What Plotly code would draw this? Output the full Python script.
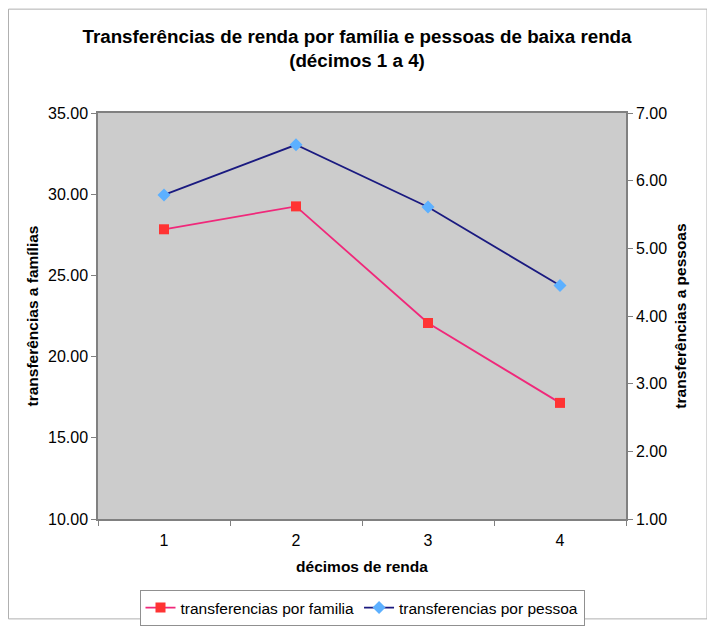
import plotly.graph_objects as go

decimos = ["1", "2", "3", "4"]
por_familia = [27.84, 29.25, 22.07, 17.15]
por_pessoa = [5.79, 6.53, 5.61, 4.45]

# page offset of 8px (body margin) compensated
OFF = 8
W, H = 715 - OFF, 628 - OFF
L, R, T, B = 98 - OFF, 626 - OFF, 112.5 - OFF, 519 - OFF

fig = go.Figure()
fig.add_trace(go.Scatter(
    x=decimos, y=por_familia, name="transferencias por familia",
    mode="lines+markers",
    line=dict(color="#F0287A", width=1.8),
    marker=dict(symbol="square", size=10, color="#FF3333"),
    yaxis="y"))
fig.add_trace(go.Scatter(
    x=decimos, y=por_pessoa, name="transferencias por pessoa",
    mode="lines+markers",
    line=dict(color="#1A1A80", width=1.8),
    marker=dict(symbol="diamond", size=10, color="#5CB0FF"),
    yaxis="y2"))

font = "Liberation Sans, Arial, sans-serif"
fig.update_layout(
    width=W, height=H,
    margin=dict(l=L, r=W - R, t=T, b=H - B, pad=0, autoexpand=False),
    paper_bgcolor="white", plot_bgcolor="#CCCCCC",
    font=dict(family=font, size=16, color="#000000"),
    title=dict(
        text="<b>Transferências de renda por família e pessoas de baixa renda<br>(décimos 1 a 4)</b>",
        x=(357 - OFF) / W, xanchor="center", y=1 - 35 / H, yanchor="top",
        font=dict(size=18.8, family=font)),
    xaxis=dict(
        type="category", range=[-0.5, 3.5], tickson="boundaries",
        ticks="outside", ticklen=5, tickcolor="#808080",
        showline=True, linecolor="#808080", linewidth=1.5, mirror=True,
        showgrid=False, zeroline=False, ticklabelstandoff=6,
        tickfont=dict(size=16),
        title=dict(text="<b>décimos de renda</b>", font=dict(size=15.5), standoff=13)),
    yaxis=dict(
        range=[10, 35], dtick=5, tickformat=".2f",
        ticks="outside", ticklen=5, tickcolor="#808080",
        showline=True, linecolor="#808080", linewidth=1.5, mirror=True,
        showgrid=False, zeroline=False, tickfont=dict(size=16),
        title=dict(text="<b>transferências a famílias</b>", font=dict(size=15.5), standoff=6)),
    yaxis2=dict(
        range=[1, 7], dtick=1, tickformat=".2f", overlaying="y", side="right",
        ticks="outside", ticklen=5, tickcolor="#808080",
        showline=True, linecolor="#808080", linewidth=1.5,
        showgrid=False, zeroline=False, tickfont=dict(size=16),
        title=dict(text="<b>transferências a pessoas</b>", font=dict(size=15.5), standoff=9)),
    legend=dict(
        orientation="h", x=(362 - OFF) / W, xanchor="center", xref="container",
        y=1 - (590 - OFF) / H, yanchor="top", yref="container",
        bordercolor="#909090", borderwidth=1, bgcolor="white",
        font=dict(size=15.5), itemwidth=30, tracegroupgap=0),
    showlegend=True,
)

fig.add_shape(type="rect", xref="paper", yref="paper",
              x0=(0.5 - L) / (R - L), x1=(707 - OFF - L) / (R - L),
              y0=(B - (619 - OFF)) / (B - T), y1=(B - 0.5) / (B - T),
              line=dict(color="#B0B0B0", width=1), fillcolor="rgba(0,0,0,0)",
              layer="below")

fig.write_html("out.html")
